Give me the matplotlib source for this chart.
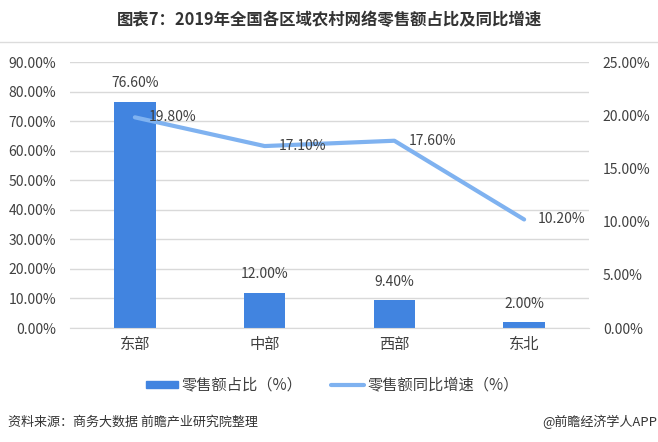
import matplotlib
matplotlib.use("Agg")
from matplotlib import pyplot as plt
from matplotlib.ticker import FuncFormatter

plt.rcParams['font.family'] = ['Noto Sans CJK SC', 'DejaVu Sans']

regions = ['东部', '中部', '西部', '东北']
share = [76.60, 12.00, 9.40, 2.00]
growth = [19.80, 17.10, 17.60, 10.20]

bar_color = '#4184e0'
line_color = '#7fb2f0'
text_color = '#404040'

fig = plt.figure(figsize=(6.58, 4.42), dpi=100)
ax = fig.add_axes([70/658, 1-328/442, 519/658, 266/442])
ax2 = ax.twinx()

x = list(range(len(regions)))
ax.bar(x, share, width=0.32, color=bar_color, zorder=2)
ax2.plot(x, growth, color=line_color, linewidth=3, solid_capstyle='round', zorder=3)

ax.set_xlim(-0.5, 3.5)
ax.set_ylim(0, 90)
ax.set_yticks(range(0, 91, 10))
ax2.set_ylim(0, 25)
ax2.set_yticks(range(0, 26, 5))
ax.yaxis.set_major_formatter(FuncFormatter(lambda v, p: f'{v:.2f}%'))
ax2.yaxis.set_major_formatter(FuncFormatter(lambda v, p: f'{v:.2f}%'))
ax.set_xticks(x)
ax.set_xticklabels(regions)

ax.grid(axis='y', color='#d9d9d9', linewidth=1, zorder=0)
ax.set_axisbelow(True)
for a in (ax, ax2):
    for s in a.spines.values():
        s.set_visible(False)
    a.tick_params(length=0, colors=text_color, labelsize=10, pad=10)
ax.spines['bottom'].set_visible(True)
ax.spines['bottom'].set_color('#d9d9d9')
ax.tick_params(axis='x', labelsize=11, pad=6)
ax2.set_zorder(ax.get_zorder() + 1)
ax2.patch.set_visible(False)

for i, v in enumerate(share):
    ax.annotate(f'{v:.2f}%', (i, v), xytext=(0, 8), textcoords='offset points',
                ha='center', va='bottom', fontsize=10, color=text_color)
for i, v in enumerate(growth):
    ax2.annotate(f'{v:.2f}%', (i, v), xytext=(10, 0), textcoords='offset points',
                 ha='left', va='center', fontsize=10, color=text_color, zorder=4)

fig.text(329/658, 1-20/442, '图表7：2019年全国各区域农村网络零售额占比及同比增速',
         ha='center', va='center', fontsize=11.8, fontweight='bold', color='#333333')
fig.add_artist(plt.Line2D([0, 1], [1-42/442, 1-42/442], color='#dcdcdc', linewidth=1))

# legend
fig.patches.append(plt.Rectangle((146/658, 1-388/442), 32/658, 7/442, color=bar_color,
                                 transform=fig.transFigure, figure=fig))
fig.text(182/658, 1-385/442, '零售额占比（%）', ha='left', va='center', fontsize=11, color=text_color)
fig.add_artist(plt.Line2D([331/658, 364/658], [1-385/442, 1-385/442], color=line_color,
                          linewidth=3, solid_capstyle='round'))
fig.text(367/658, 1-385/442, '零售额同比增速（%）', ha='left', va='center', fontsize=11, color=text_color)

fig.text(8/658, 1-422/442, '资料来源：商务大数据 前瞻产业研究院整理', ha='left', va='center',
         fontsize=9.4, color='#333333')
fig.text(657/658, 1-422/442, '@前瞻经济学人APP', ha='right', va='center', fontsize=9.4, color='#333333')

fig.savefig('out.png', dpi=100)
